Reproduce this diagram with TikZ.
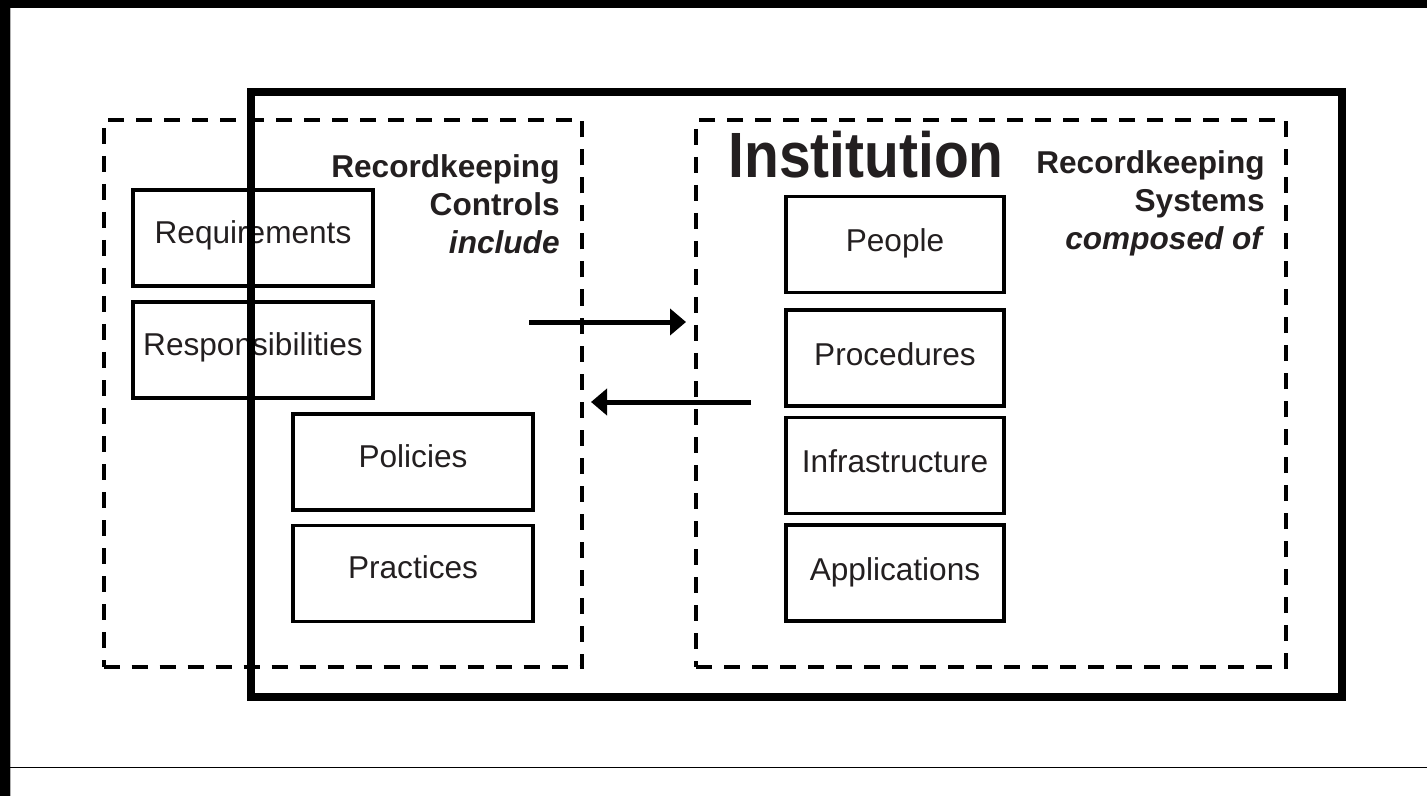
\documentclass[tikz,border=0pt]{standalone}
\usepackage{fontspec}
\usepackage{graphicx}
\setmainfont{Liberation Sans}
\usetikzlibrary{arrows.meta}
\definecolor{ink}{RGB}{35,31,32}
\begin{document}
\begin{tikzpicture}[x=0.5pt,y=-0.5pt,
  txt/.style={font=\fontsize{15.8pt}{19pt}\selectfont,text=ink},
  lbox/.style={txt,draw=black,line width=1.75pt,minimum width=120pt,minimum height=48pt,inner sep=0pt,text height=8pt,text depth=2.7pt},
  rbox/.style={txt,draw=black,line width=1.75pt,minimum width=109pt,minimum height=48pt,inner sep=0pt,text height=9.5pt,text depth=2.2pt},
  dbox/.style={draw=black,line width=2pt,dash pattern=on 8pt off 6pt,inner sep=0pt,minimum height=273.5pt},
  inbox/.style={draw=black,line width=4.25pt,inner sep=0pt,minimum width=545.5pt,minimum height=302.5pt},
  lbl/.style={txt,font=\fontsize{15.8pt}{19pt}\selectfont\bfseries,align=right,inner sep=0pt,anchor=north east},
  arr/.style={line width=2.5pt,-{Triangle[length=8pt,width=13pt]}}
]
\useasboundingbox (0,0) rectangle (1427,796);
% page frame
\fill[black] (0,0) rectangle (10,796);
\fill[black] (0,0) rectangle (1427,8);
\draw[gray!60,line width=0.5pt] (10.5,8) -- (10.5,796);
\draw[black,line width=0.6pt] (10,767.5) -- (1427,767.5);

% left column boxes
\node[lbox] (req)  at (253,238) {Requirements};
\node[lbox] (resp) at (253,350) {Responsibilities};
\node[lbox] (pol)  at (413,462) {Policies};
\node[lbox] (prac) at (413,573.5) {Practices};

% right column boxes
\node[rbox] (people) at (895,244.5) {People};
\node[rbox] (proc)   at (895,358) {Procedures};
\node[rbox] (infra)  at (895,465.5) {Infrastructure};
\node[rbox] (apps)   at (895,573) {Applications};

% dashed groups
\node[dbox,minimum width=239.25pt] (controls) at (342.75,393.5) {};
\node[dbox,minimum width=295pt] (systems) at (991,393.5) {};

% institution frame
\node[inbox] (institution) at (796.5,394.5) {};

% labels
\node[lbl] (ctllabel) at (560,154) {Recordkeeping\\Controls\\\textit{include}};
\node[lbl] (syslabel) at (1265,150) {Recordkeeping\\Systems\\\textit{composed of}};
\node[font=\fontsize{32pt}{38pt}\selectfont\bfseries,text=ink,inner sep=0pt,anchor=base] (inst) at (866,178) {\scalebox{0.89}[1]{Institution}};

% arrows
\coordinate (a1s) at (529,322);
\coordinate (a1e) at (686,322);
\coordinate (a2s) at (751,402);
\coordinate (a2e) at (591,402);
\draw[arr] (a1s) -- (a1e);
\draw[arr] (a2s) -- (a2e);
\end{tikzpicture}
\end{document}
